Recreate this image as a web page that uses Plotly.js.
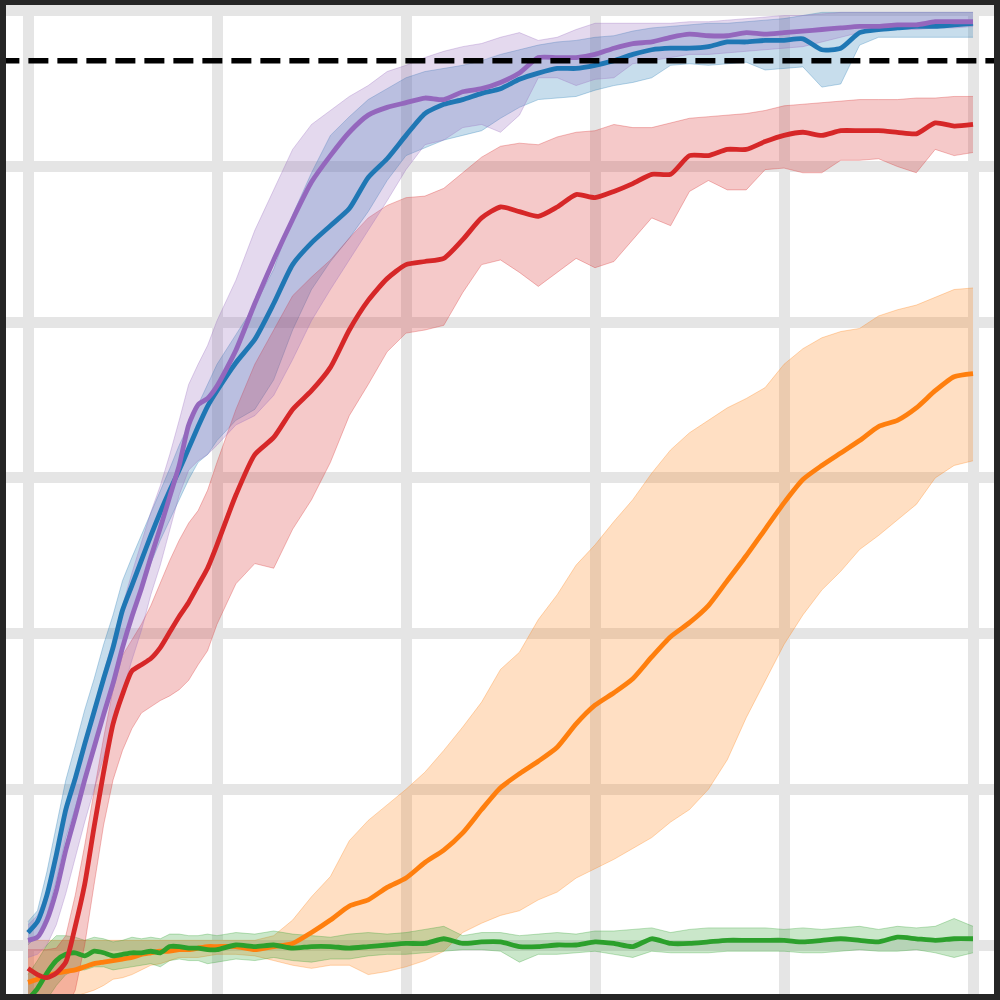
<!DOCTYPE html>
<html>
<head>
<meta charset="utf-8">
<script src="https://cdn.plot.ly/plotly-3.0.1.min.js"></script>
<style>
  html, body { margin: 0; padding: 0; background: #262626; }
  #chart { width: 1000px; height: 1000px; }
</style>
</head>
<body>
<div id="chart"></div>
<script>
// training steps (grid units) shared by all runs
var steps = [0,0.05,0.1,0.15,0.2,0.25,0.3,0.35,0.4,0.45,0.5,0.55,0.6,0.65,0.7,0.75,0.8,0.85,0.9,0.95,1.0,
  1.1,1.2,1.3,1.4,1.5,1.6,1.7,1.8,1.9,2.0,2.1,2.2,2.3,2.4,2.5,2.6,2.7,2.8,2.9,3.0,3.1,3.2,3.3,3.4,3.5,3.6,3.7,3.8,3.9,4.0,4.1,4.2,4.3,4.4,4.5,4.6,4.7,4.8,4.9,5.0];

var blueMean = [0.08,0.15,0.32,0.58,0.87,1.07,1.29,1.50,1.71,1.91,2.15,2.31,2.47,2.63,2.78,2.92,3.05,3.19,3.33,3.46,3.56,
  3.74,3.89,4.12,4.37,4.51,4.62,4.73,4.93,5.05,5.20,5.34,5.40,5.43,5.47,5.50,5.56,5.60,5.63,5.63,5.65,5.68,5.72,5.75,5.76,5.76,5.77,5.80,5.80,5.81,5.81,5.82,5.75,5.76,5.86,5.88,5.89,5.90,5.90,5.91,5.92];
var blueHigh = [0.15,0.22,0.47,0.77,1.06,1.28,1.51,1.71,1.93,2.12,2.34,2.49,2.63,2.78,2.92,3.06,3.21,3.34,3.47,3.60,3.73,
  3.92,4.11,4.34,4.69,4.96,5.20,5.32,5.43,5.50,5.57,5.61,5.63,5.65,5.68,5.72,5.75,5.78,5.80,5.81,5.83,5.84,5.87,5.89,5.90,5.91,5.92,5.92,5.93,5.94,5.95,5.97,5.99,5.99,5.99,5.99,5.99,5.99,5.99,5.99,5.99];
var blueLow = [0.00,0.06,0.19,0.42,0.69,0.88,1.09,1.28,1.50,1.69,1.93,2.12,2.28,2.45,2.60,2.73,2.86,2.99,3.10,3.15,3.24,
  3.37,3.44,3.63,3.95,4.21,4.39,4.54,4.71,4.91,5.07,5.12,5.17,5.20,5.23,5.31,5.38,5.43,5.44,5.45,5.49,5.52,5.54,5.57,5.65,5.66,5.65,5.66,5.67,5.62,5.63,5.64,5.51,5.53,5.78,5.83,5.83,5.83,5.83,5.83,5.83];

var orangeMean = [-0.24,-0.22,-0.20,-0.18,-0.17,-0.16,-0.14,-0.12,-0.11,-0.10,-0.09,-0.08,-0.06,-0.05,-0.04,-0.04,-0.03,-0.03,-0.02,-0.01,-0.01,
  -0.01,-0.03,-0.01,0.01,0.08,0.16,0.25,0.29,0.37,0.43,0.53,0.61,0.72,0.87,1.01,1.10,1.18,1.27,1.42,1.54,1.62,1.71,1.85,1.98,2.07,2.18,2.34,2.50,2.67,2.84,2.99,3.08,3.16,3.24,3.33,3.37,3.45,3.56,3.65,3.67];
var orangeHigh = [0.04,0.03,0.03,0.03,0.03,0.03,0.03,0.03,0.03,0.03,0.03,0.03,0.03,0.03,0.03,0.03,0.03,0.03,0.03,0.03,0.03,
  0.03,0.03,0.06,0.16,0.31,0.44,0.67,0.80,0.90,1.00,1.11,1.25,1.40,1.56,1.77,1.88,2.09,2.25,2.44,2.57,2.72,2.86,3.03,3.18,3.29,3.37,3.45,3.51,3.58,3.73,3.83,3.90,3.94,3.96,4.04,4.08,4.11,4.16,4.21,4.22];
var orangeLow = [-0.42,-0.42,-0.39,-0.35,-0.32,-0.33,-0.31,-0.29,-0.26,-0.22,-0.21,-0.19,-0.16,-0.13,-0.12,-0.10,-0.08,-0.08,-0.08,-0.07,-0.06,
  -0.06,-0.07,-0.10,-0.13,-0.15,-0.13,-0.13,-0.19,-0.17,-0.14,-0.10,-0.04,0.08,0.14,0.19,0.22,0.29,0.34,0.43,0.49,0.55,0.62,0.69,0.79,0.87,1.00,1.19,1.46,1.70,1.93,2.12,2.28,2.40,2.54,2.63,2.73,2.83,3.00,3.08,3.11];

var greenMean = [-0.35,-0.28,-0.18,-0.10,-0.06,-0.05,-0.07,-0.04,-0.05,-0.07,-0.06,-0.05,-0.05,-0.04,-0.05,-0.01,-0.01,-0.02,-0.02,-0.03,-0.03,
  0.00,-0.01,0.00,-0.02,-0.01,-0.01,-0.02,-0.01,0.00,0.01,0.01,0.04,0.01,0.02,0.02,-0.01,-0.01,0.00,0.00,0.02,0.01,-0.01,0.04,0.01,0.01,0.02,0.03,0.03,0.03,0.03,0.02,0.03,0.04,0.03,0.02,0.05,0.04,0.03,0.04,0.04];
var greenHigh = [-0.19,-0.10,0.00,0.06,0.06,0.05,0.03,0.05,0.04,0.02,0.03,0.05,0.04,0.05,0.04,0.07,0.07,0.06,0.06,0.07,0.06,
  0.08,0.07,0.09,0.07,0.06,0.05,0.07,0.08,0.07,0.08,0.10,0.12,0.06,0.08,0.08,0.06,0.07,0.08,0.07,0.09,0.09,0.10,0.11,0.08,0.10,0.11,0.11,0.11,0.11,0.10,0.11,0.10,0.11,0.12,0.10,0.12,0.11,0.12,0.17,0.12];
var greenLow = [-0.45,-0.42,-0.35,-0.26,-0.19,-0.16,-0.16,-0.14,-0.14,-0.16,-0.15,-0.14,-0.13,-0.12,-0.14,-0.10,-0.09,-0.10,-0.10,-0.12,-0.11,
  -0.09,-0.10,-0.08,-0.10,-0.11,-0.09,-0.09,-0.07,-0.06,-0.06,-0.05,-0.04,-0.03,-0.03,-0.04,-0.11,-0.06,-0.06,-0.05,-0.04,-0.06,-0.08,-0.04,-0.05,-0.05,-0.05,-0.04,-0.04,-0.04,-0.04,-0.05,-0.05,-0.04,-0.03,-0.04,-0.04,-0.03,-0.05,-0.08,-0.05];

var redMean = [-0.15,-0.19,-0.21,-0.18,-0.11,0.12,0.39,0.76,1.11,1.42,1.61,1.76,1.80,1.84,1.91,2.01,2.11,2.20,2.31,2.42,2.57,
  2.89,3.15,3.26,3.44,3.56,3.71,3.95,4.14,4.28,4.37,4.39,4.41,4.53,4.67,4.74,4.71,4.68,4.74,4.82,4.80,4.84,4.89,4.95,4.95,5.07,5.07,5.11,5.11,5.16,5.20,5.22,5.20,5.23,5.23,5.23,5.22,5.21,5.28,5.26,5.27];
var redHigh = [-0.03,-0.03,-0.03,-0.02,0.06,0.32,0.64,0.99,1.33,1.64,1.86,1.96,2.06,2.18,2.33,2.47,2.60,2.71,2.79,2.92,3.10,
  3.44,3.73,3.95,4.17,4.29,4.40,4.54,4.67,4.75,4.80,4.81,4.86,4.96,5.06,5.13,5.15,5.14,5.19,5.22,5.23,5.27,5.25,5.25,5.28,5.31,5.32,5.33,5.34,5.36,5.39,5.40,5.41,5.42,5.43,5.43,5.43,5.44,5.44,5.45,5.45];
var redLow = [-0.42,-0.42,-0.42,-0.42,-0.42,-0.29,0.00,0.39,0.77,1.06,1.25,1.39,1.49,1.53,1.57,1.60,1.64,1.70,1.80,1.89,2.06,
  2.32,2.45,2.42,2.67,2.86,3.10,3.40,3.60,3.81,3.93,3.95,3.98,4.19,4.37,4.40,4.32,4.23,4.32,4.41,4.35,4.39,4.53,4.67,4.62,4.84,4.91,4.85,4.85,4.98,4.99,4.96,4.96,5.04,5.04,5.05,5.00,4.96,5.11,5.07,5.09];

var purpleMean = [0.03,0.05,0.16,0.35,0.61,0.83,1.06,1.27,1.48,1.68,1.91,2.11,2.29,2.49,2.68,2.88,3.08,3.34,3.47,3.51,3.59,
  3.82,4.12,4.40,4.66,4.90,5.07,5.22,5.33,5.38,5.41,5.44,5.43,5.48,5.50,5.54,5.60,5.70,5.70,5.70,5.72,5.76,5.79,5.80,5.83,5.85,5.84,5.84,5.86,5.85,5.86,5.87,5.88,5.89,5.90,5.90,5.91,5.91,5.93,5.93,5.93];
var purpleHigh = [0.13,0.19,0.34,0.58,0.85,1.09,1.32,1.53,1.75,1.96,2.18,2.39,2.58,2.78,2.95,3.15,3.37,3.60,3.73,3.85,4.01,
  4.27,4.59,4.85,5.11,5.27,5.36,5.45,5.52,5.61,5.65,5.70,5.74,5.77,5.79,5.83,5.86,5.81,5.83,5.88,5.92,5.92,5.92,5.92,5.92,5.93,5.93,5.94,5.95,5.96,5.97,5.97,5.98,5.99,5.99,5.99,5.99,5.99,5.99,5.99,5.99];
var purpleLow = [-0.08,-0.06,0.00,0.13,0.33,0.56,0.79,1.00,1.21,1.41,1.62,1.83,2.02,2.25,2.44,2.67,2.89,3.05,3.11,3.15,3.21,
  3.34,3.40,3.53,3.76,4.01,4.21,4.40,4.59,4.78,4.98,5.14,5.17,5.25,5.27,5.22,5.33,5.57,5.57,5.52,5.56,5.57,5.66,5.68,5.70,5.72,5.72,5.73,5.74,5.75,5.76,5.77,5.80,5.83,5.86,5.87,5.88,5.88,5.89,5.89,5.90];

var targetLevel = 5.68;

var xRange = [-0.1164, 5.111];
var yRange = [-0.3147, 6.031];

var series = [
  {rgb: [31,119,180],  mean: blueMean,   low: blueLow,   high: blueHigh},
  {rgb: [255,127,14],  mean: orangeMean, low: orangeLow, high: orangeHigh},
  {rgb: [44,160,44],   mean: greenMean,  low: greenLow,  high: greenHigh},
  {rgb: [214,39,40],   mean: redMean,    low: redLow,    high: redHigh},
  {rgb: [148,103,189], mean: purpleMean, low: purpleLow, high: purpleHigh}
];

function rgba(c, a) {
  return 'rgba(' + c[0] + ',' + c[1] + ',' + c[2] + ',' + a + ')';
}

var data = [];
// shaded bands first (they sit under every line)
series.forEach(function(s) {
  data.push({x: steps, y: s.low, mode: 'lines', type: 'scatter',
             line: {color: rgba(s.rgb, 0.3), width: 1}, hoverinfo: 'skip'});
  data.push({x: steps, y: s.high, mode: 'lines', type: 'scatter', fill: 'tonexty',
             fillcolor: rgba(s.rgb, 0.25),
             line: {color: rgba(s.rgb, 0.3), width: 1}, hoverinfo: 'skip'});
});
series.forEach(function(s) {
  data.push({x: steps, y: s.mean, mode: 'lines', type: 'scatter',
             line: {color: rgba(s.rgb, 1), width: 4.8, shape: 'spline', smoothing: 0.6}});
});
// dashed target line across the whole plot
data.push({x: [xRange[0] - 0.035, xRange[1]], y: [targetLevel, targetLevel], mode: 'lines', type: 'scatter',
           line: {color: '#000000', width: 5.5, dash: '20px,9px'}});

var axisStyle = {
  tick0: 0, dtick: 1,
  showgrid: true, gridcolor: '#e5e5e5', gridwidth: 11,
  zeroline: false, showline: false,
  showticklabels: false, ticks: ''
};

var layout = {
  width: 1000, height: 1000,
  margin: {l: 6, r: 6, t: 6, b: 6, pad: 0},
  paper_bgcolor: '#262626',
  plot_bgcolor: '#ffffff',
  showlegend: false,
  xaxis: Object.assign({range: xRange}, axisStyle),
  yaxis: Object.assign({range: yRange}, axisStyle)
};

Plotly.newPlot('chart', data, layout, {staticPlot: true});
</script>
</body>
</html>
